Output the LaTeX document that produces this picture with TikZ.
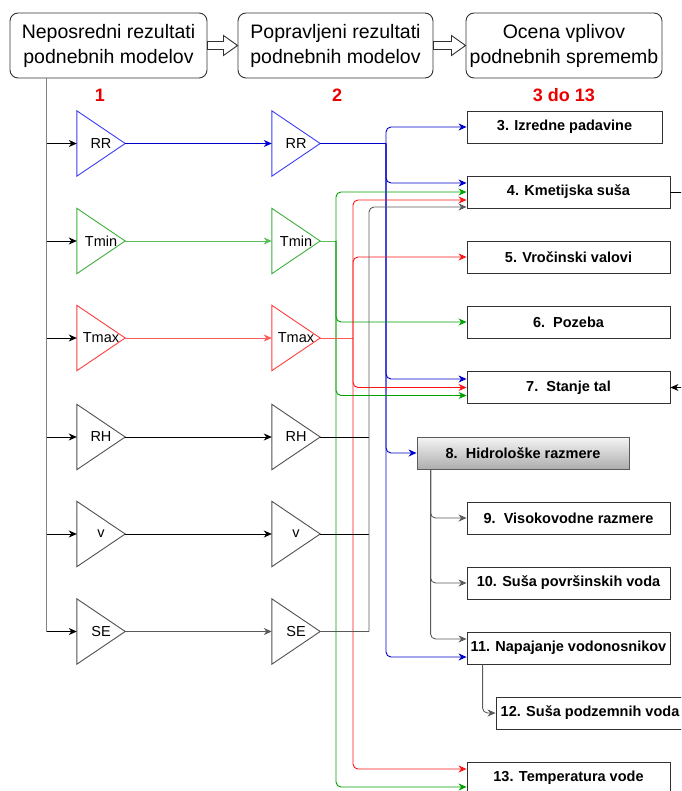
\documentclass[tikz,border=0pt]{standalone}
\usepackage{fontspec}
\setmainfont{Liberation Sans}
\usetikzlibrary{arrows.meta,calc}
\definecolor{boxgray}{RGB}{50,50,50}
\definecolor{blueT}{RGB}{60,60,245}
\definecolor{blueL}{RGB}{0,0,205}
\definecolor{greenT}{RGB}{60,175,60}
\definecolor{greenM}{RGB}{90,190,90}
\definecolor{greenL}{RGB}{0,160,0}
\definecolor{redT}{RGB}{255,60,60}
\definecolor{redM}{RGB}{255,90,90}
\definecolor{redL}{RGB}{255,20,20}
\definecolor{grayT}{RGB}{80,80,80}
\definecolor{grayK}{RGB}{90,90,90}
\definecolor{grayV}{RGB}{130,130,130}
\definecolor{numred}{RGB}{235,0,0}
\begin{document}
\begin{tikzpicture}[x=1pt,y=-1pt,
  topbox/.style={draw=boxgray, rounded corners=8pt, line width=0.9pt, minimum width=197pt, minimum height=65pt, inner sep=0pt, align=center, font=\fontsize{19.5}{25}\selectfont},
  numlab/.style={text=numred, inner sep=0pt, font=\bfseries\fontsize{18}{20}\selectfont},
  resbox/.style={draw=boxgray, line width=0.9pt, minimum width=203pt, minimum height=32pt, inner sep=0pt, font=\bfseries\fontsize{14.5}{17}\selectfont},
  trinode/.style={minimum width=48pt, minimum height=65pt, inner sep=0pt, font=\fontsize{14.5}{17}\selectfont},
  tip/.style={-{Stealth[length=8pt,width=7pt,inset=2.5pt]}},
  ln/.style={line width=0.9pt},
  bus/.style={rounded corners=5pt},
  hollow/.style={draw=boxgray, line width=0.9pt, fill=white}
]
\useasboundingbox (0,0) rectangle (681,791);
\clip (0,0) rectangle (681,791);

% top boxes
\node[topbox] (b1) at (108.5,45.5) {Neposredni rezultati\\podnebnih modelov};
\node[topbox, minimum width=195pt] (b2) at (335.5,45.5) {Popravljeni rezultati\\podnebnih modelov};
\node[topbox, minimum width=196pt] (b3) at (564,45.5) {Ocena vplivov\\podnebnih sprememb};
\draw[hollow] ($(b1.east)+(0,-4)$) -- ($(b1.east)+(16,-4)$) -- ($(b1.east)+(16,-10)$) -- (b2.west)
  -- ($(b1.east)+(16,10)$) -- ($(b1.east)+(16,4)$) -- ($(b1.east)+(0,4)$) -- cycle;
\draw[hollow] ($(b2.east)+(0,-4)$) -- ($(b2.east)+(18,-4)$) -- ($(b2.east)+(18,-10)$) -- (b3.west)
  -- ($(b2.east)+(18,10)$) -- ($(b2.east)+(18,4)$) -- ($(b2.east)+(0,4)$) -- cycle;

\node[numlab] (l1) at (100,95) {1};
\node[numlab] (l2) at (337,95) {2};
\node[numlab] (l3) at (564,95) {3 do 13};

% triangles
\foreach \n/\y/\tc/\lc in {RR/143.5/blueT/blueL, Tmin/241/greenT/greenM, Tmax/338/redT/redM, RH/437/grayT/black, v/534/grayT/black, SE/631.5/grayT/grayK}{
  \node[trinode] (a\n) at (101,\y) {\n};
  \draw[\tc, line width=0.9pt] (a\n.north west) -- (a\n.east) -- (a\n.south west) -- cycle;
  \node[trinode] (b\n) at (296,\y) {\n};
  \draw[\tc, line width=0.9pt] (b\n.north west) -- (b\n.east) -- (b\n.south west) -- cycle;
  \draw[\lc, ln, tip] (a\n.east) -- (b\n.west);
}

% left vertical line and arrows
\coordinate (L) at ($(b1.south west)+(37,0)$);
\draw[grayV, line width=1.4pt] (L) -- (L |- aSE.west);
\foreach \n in {RR,Tmin,Tmax,RH,v,SE}{
  \draw[black, ln, tip] (L |- a\n.west) -- (a\n.west);
}

% result boxes
\node[resbox, minimum width=195pt] (n3) at (564.5,127) {3. Izredne padavine};
\node[resbox] (n4) at (568.5,192) {4. Kmetijska suša};
\node[resbox] (n5) at (568.5,257) {5. Vročinski valovi};
\node[resbox] (n6) at (568.5,322) {6.\ \ Pozeba};
\node[resbox] (n7) at (568.5,387.5) {7.\ \ Stanje tal};
\node[resbox, minimum width=212pt, draw=grayK, top color=black!4, bottom color=black!32] (n8) at (523,453) {8.\ \ Hidrološke razmere};
\node[resbox] (n9) at (568.5,518) {9.\ \ Visokovodne razmere};
\node[resbox] (n10) at (568.5,583) {10. Suša površinskih voda};
\node[resbox] (n11) at (568.5,648) {11. Napajanje vodonosnikov};
\node[resbox, minimum width=188pt] (n12) at (590,713) {12. Suša podzemnih voda};
\node[resbox] (n13) at (568.5,778) {13. Temperatura vode};

% buses
\coordinate (busB) at (386,0 |- bRR.east);
\coordinate (busG) at (336,0 |- bTmin.east);
\coordinate (busR) at (353,0 |- bTmax.east);
\coordinate (busK) at (369,0 |- bSE.east);

% blue
\draw[blueL, ln] (bRR.east) -- (busB);
\draw[blueL, ln, bus, tip] (busB) |- (n3.west);
\draw[blueL, ln, bus, tip] (busB) |- ($(n4.west)+(0,-9)$);
\draw[blueL, ln, bus, tip] (busB) |- ($(n7.west)+(0,-8.5)$);
\draw[blueL, ln, bus, tip] (busB) |- (n8.west);
\draw[blueL, ln, bus, tip] (busB) |- ($(n11.west)+(0,9)$);

% green
\draw[greenM, ln] (bTmin.east) -- (busG);
\draw[greenL, ln, bus, tip] (busG) |- (n4.west);
\draw[greenL, ln, bus, tip] (busG) |- (n6.west);
\draw[greenL, ln, bus, tip] (busG) |- ($(n7.west)+(0,8)$);
\draw[greenL, ln, bus, tip] (busG) |- ($(n13.west)+(0,9)$);

% red
\draw[redM, ln] (bTmax.east) -- (busR);
\draw[redL, ln, bus, tip] (busR) |- ($(n4.west)+(0,8)$);
\draw[redL, ln, bus, tip] (busR) |- (n5.west);
\draw[redL, ln, bus, tip] (busR) |- (n7.west);
\draw[redL, ln, bus, tip] (busR) |- ($(n13.west)+(0,-9)$);

% black
\draw[black, ln] (bRH.east) -- (369,0 |- bRH.east);
\draw[black, ln] (bv.east) -- (369,0 |- bv.east);
\draw[grayK, ln] (bSE.east) -- (busK);
\draw[grayK, ln, bus, tip] (busK) |- ($(n4.west)+(0,15)$);

% hydrology branches
\coordinate (h8) at ($(n8.south west)+(14,0)$);
\draw[grayK, ln, bus, tip] (h8) |- (n9.west);
\draw[grayK, ln, bus, tip] (h8) |- (n10.west);
\draw[grayK, ln, bus, tip] (h8) |- ($(n11.west)+(0,-9)$);
\draw[grayK, ln, bus, tip] ($(n11.south west)+(16,0)$) |- (n12.west);

% off-canvas link 4 -> 7
\draw[black, ln, tip] (n4.east) -- ++(25,0) |- (n7.east);
\end{tikzpicture}
\end{document}
